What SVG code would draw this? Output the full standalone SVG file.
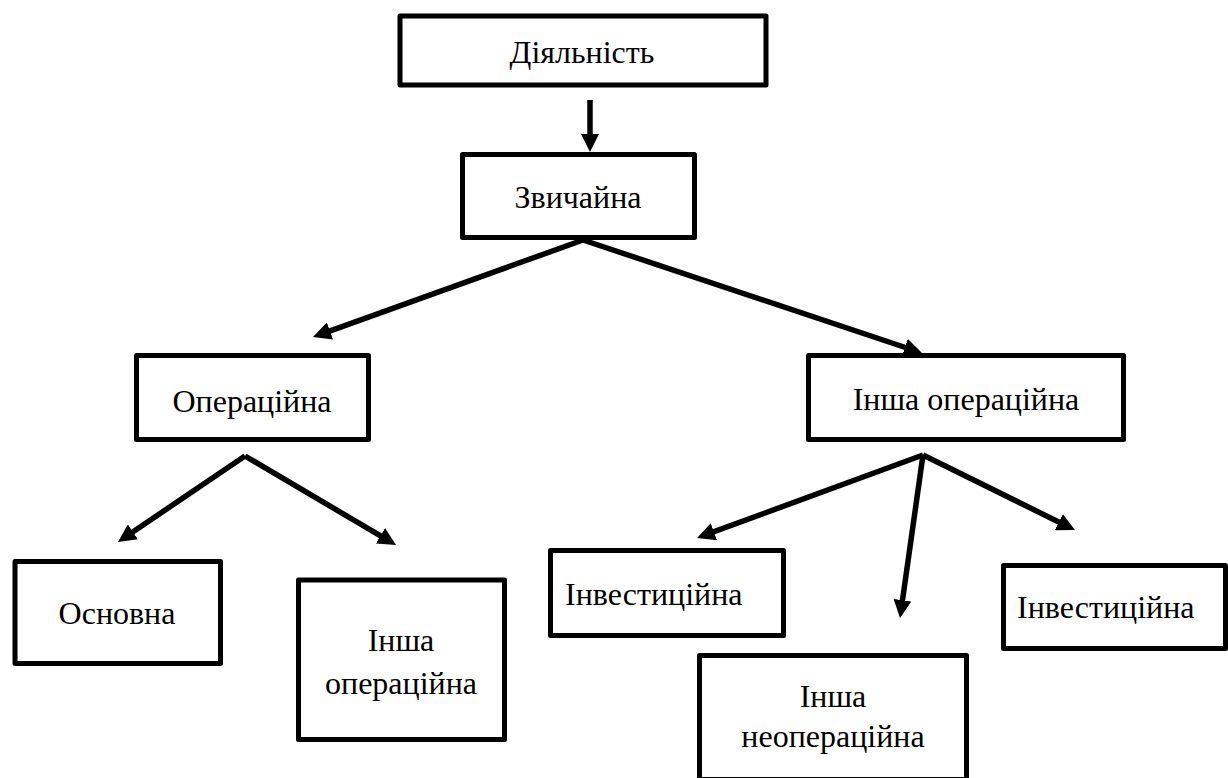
<svg xmlns="http://www.w3.org/2000/svg" width="1228" height="778" viewBox="0 0 1228 778" font-family="Liberation Serif, Times New Roman, DejaVu Serif, serif">
<style>
.box{fill:#fff;stroke:#000;stroke-width:5;stroke-linejoin:round}
text{font-family:"Liberation Serif","Times New Roman","DejaVu Serif",serif;font-size:32px;fill:#000}
.c{text-anchor:middle}
.con{stroke:#000;stroke-width:5.5;fill:none}
</style>
<defs>
<marker id="ah" markerUnits="userSpaceOnUse" markerWidth="18" markerHeight="18" refX="10" refY="9" orient="auto">
<path d="M0,0 L18,9 L0,18 z" fill="#000"/>
</marker>
</defs>
<rect width="1228" height="778" fill="#fff"/>
<g id="connectors">
<line class="con" x1="590" y1="100" x2="590" y2="144" marker-end="url(#ah)"/>
<line class="con" x1="583" y1="240" x2="320.5" y2="334.3" marker-end="url(#ah)"/>
<line class="con" x1="583" y1="240" x2="914.4" y2="350.5" marker-end="url(#ah)"/>
<line class="con" x1="245" y1="456" x2="124.6" y2="537.5" marker-end="url(#ah)"/>
<line class="con" x1="245" y1="456" x2="389.1" y2="540.9" marker-end="url(#ah)"/>
<line class="con" x1="923" y1="455" x2="704.5" y2="535.2" marker-end="url(#ah)"/>
<line class="con" x1="923" y1="455" x2="901.1" y2="610.1" marker-end="url(#ah)"/>
<line class="con" x1="923" y1="455" x2="1067.8" y2="526.5" marker-end="url(#ah)"/>
</g>
<g id="n-diyalnist"><rect class="box" x="400" y="16" width="366" height="69"/><text class="c" x="582" y="63" font-family="Liberation Serif">Діяльність</text></g>
<g id="n-zvychaina"><rect class="box" x="462.5" y="154.5" width="232" height="83"/><text class="c" x="578" y="208">Звичайна</text></g>
<g id="n-operatsiina"><rect class="box" x="136.5" y="355.5" width="232" height="84"/><text class="c" x="252" y="412">Операційна</text></g>
<g id="n-insha-operatsiina"><rect class="box" x="808.5" y="355.5" width="315" height="84"/><text class="c" x="966" y="410">Інша операційна</text></g>
<g id="n-osnovna"><rect class="box" x="15" y="561.5" width="205.5" height="102"/><text class="c" x="117" y="624">Основна</text></g>
<g id="n-insha-operatsiina-2"><rect class="box" x="298.5" y="580" width="206" height="159.5"/><text class="c" x="401" y="651">Інша</text><text class="c" x="401" y="694">операційна</text></g>
<g id="n-investytsiina-1"><rect class="box" x="550.5" y="550.5" width="233" height="85"/><text x="565" y="605">Інвестиційна</text></g>
<g id="n-insha-neoperatsiina"><rect class="box" x="699.5" y="655.5" width="267" height="124"/><text class="c" x="833" y="707">Інша</text><text class="c" x="833" y="747">неопераційна</text></g>
<g id="n-investytsiina-2"><rect class="box" x="1003.5" y="565.5" width="222" height="83"/><text x="1017" y="618">Інвестиційна</text></g>
</svg>
